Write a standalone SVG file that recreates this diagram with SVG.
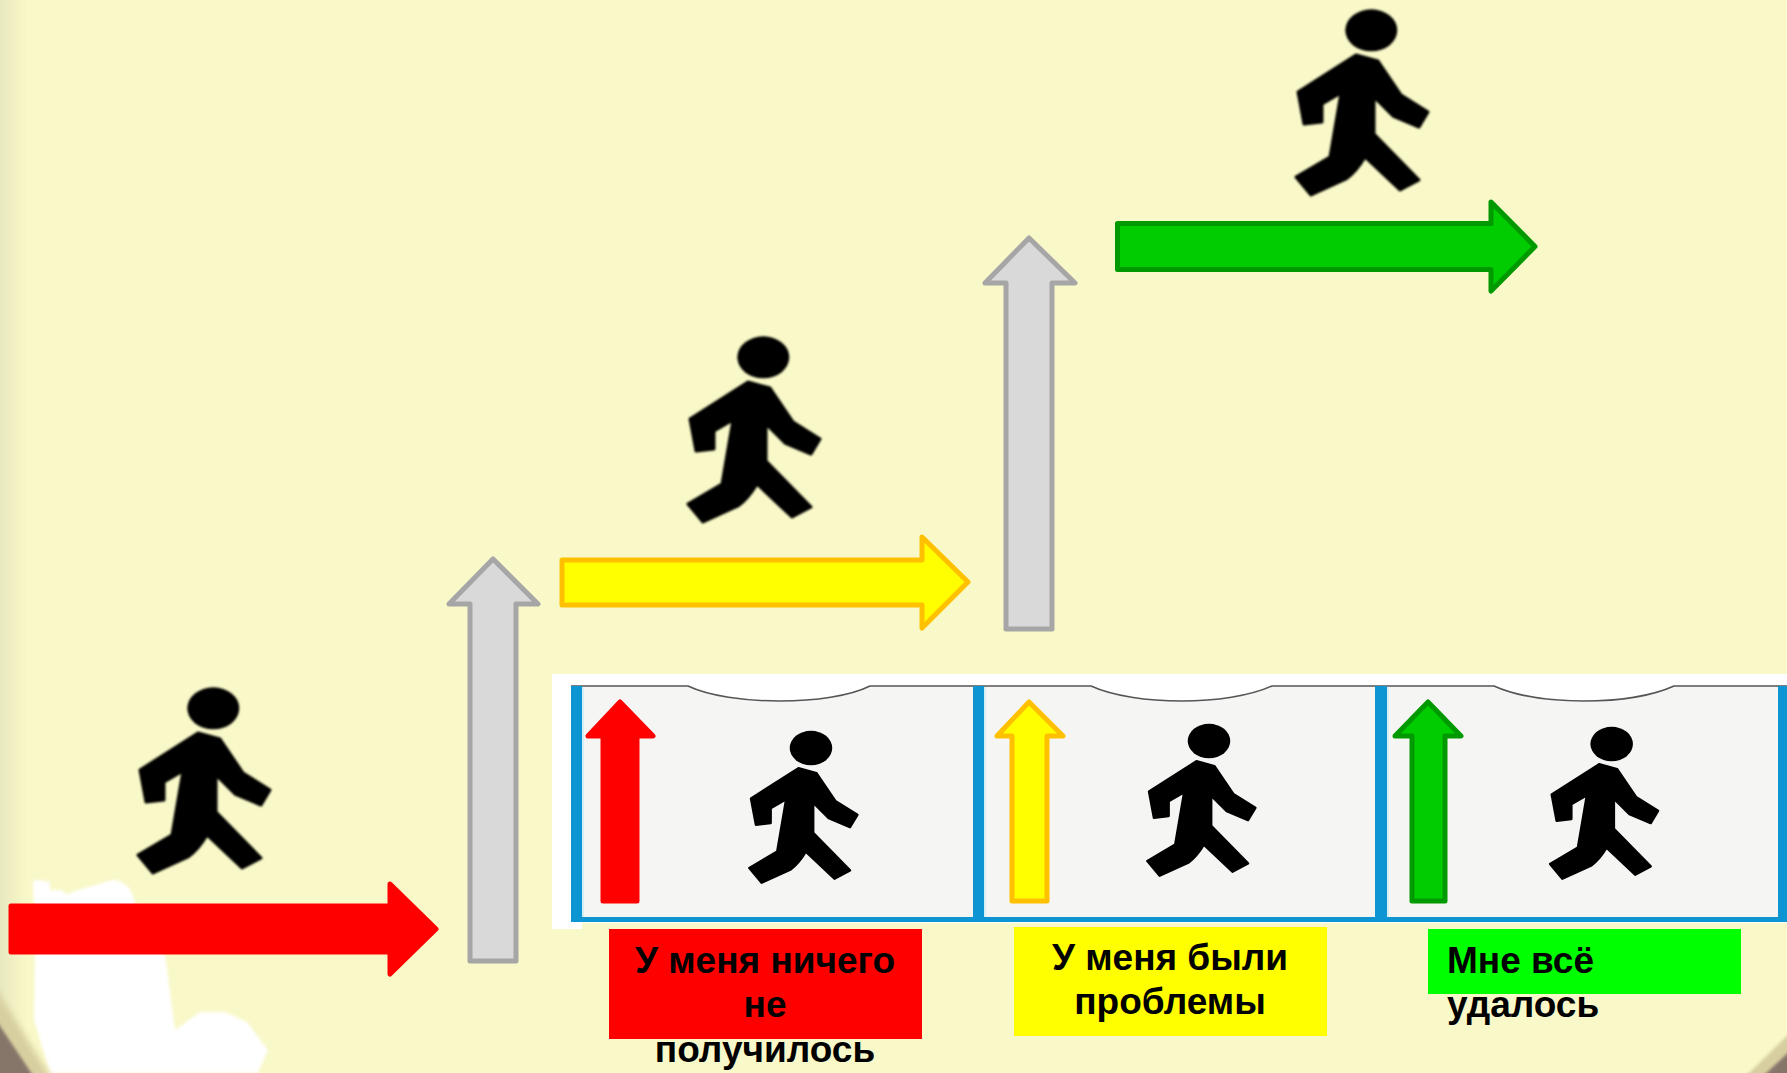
<svg xmlns="http://www.w3.org/2000/svg" width="1787" height="1073" viewBox="0 0 1787 1073">
<style>
.t{font-family:"Liberation Sans",Arial,sans-serif;font-weight:700;font-size:37px;fill:#000}
.m{text-anchor:middle}
.ar{stroke-width:5;stroke-linejoin:round}
.gray{fill:#d9d9d9;stroke:#a6a6a6}
.red{fill:#ff0000;stroke:#ff0000}
.yel{fill:#ffff00;stroke:#ffc000}
.grn{fill:#00cc00;stroke:#009a00}
.bl{fill:#0d94d2}
.hl{fill:#d4f0f4}
.nl{fill:#fff;stroke:#555;stroke-width:1.5}
</style>
<defs>
<filter id="soft" x="-5%" y="-5%" width="110%" height="110%"><feGaussianBlur stdDeviation="0.8"/></filter>
<filter id="soft2" x="-10%" y="-10%" width="120%" height="120%"><feGaussianBlur stdDeviation="1.5"/></filter>
<filter id="soft3" x="-30%" y="-30%" width="160%" height="160%"><feGaussianBlur stdDeviation="3"/></filter>
<linearGradient id="edge" x1="0" x2="1" y1="0" y2="0"><stop offset="0" stop-color="#e9e9bf"/><stop offset="1" stop-color="#f9f8c8"/></linearGradient>
<g id="walker" filter="url(#soft)">
<ellipse cx="113.3" cy="48.3" rx="26" ry="21"/>
<path stroke="#000" stroke-width="3" stroke-linejoin="round" d="M98 73L120 79L143 113L170 130L161 145L135 134L116 115L116 152L161 198L142 208L107 175Q98 190 88 197L53 213L38 195L72 175L83 111L64 122L64 140L46 142L40 110Z"/>
</g>
</defs>
<rect width="1787" height="1073" fill="#f9f8c8"/>
<g id="backdrop">
<rect x="0" y="0" width="28" height="1073" fill="url(#edge)"/>
<path fill="#fff" filter="url(#soft2)" d="M33 883Q32 880 40 880L50 882V890H62Q66 897 72 892L112 880Q130 880 135 903L165 954L175 1030L200 1012L225 1012L247 1022L268 1050L258 1073L50 1073L34 1020L35 950Z"/>
<path fill="#d8cfa0" filter="url(#soft3)" d="M-6 985L52 1079L-6 1079Z"/>
<path fill="#86766a" filter="url(#soft2)" d="M-4 1020L34 1077L-4 1077Z"/>
<path fill="#d8cfa0" filter="url(#soft2)" d="M1791 1032L1791 1077L1745 1077Z"/>
<path fill="#86766a" filter="url(#soft2)" d="M1791 1050L1791 1077L1762 1077Z"/>
</g>
<g id="panel">
<rect x="552" y="674" width="1235" height="255" fill="#fff"/>
<rect x="582" y="923" width="1205" height="10" fill="#f9f8c8"/>
<rect x="571" y="686" width="1216" height="236" fill="#f5f6f4"/>
<path class="nl" d="M571 686H688C730 706 830 706 870 686H1091C1135 706 1228 706 1272 686H1494C1538 706 1630 706 1674 686H1787"/>
<rect class="hl" x="582" y="687" width="2" height="230"/>
<rect class="hl" x="984" y="687" width="2" height="230"/>
<rect class="hl" x="1387" y="687" width="2" height="230"/>
<rect class="bl" x="571" y="686" width="11" height="236"/>
<rect class="bl" x="973" y="686" width="11" height="236"/>
<rect class="bl" x="1375" y="686" width="12" height="236"/>
<rect class="bl" x="1778" y="686" width="9" height="236"/>
<rect class="bl" x="571" y="917" width="1216" height="5"/>
</g>
<g id="walkers">
<use id="walker-1" href="#walker" transform="translate(100 660)"/>
<use id="walker-2" href="#walker" transform="translate(650 309)"/>
<use id="walker-3" href="#walker" transform="translate(1258 -18)"/>
<use id="walker-4" href="#walker" transform="translate(718.3 708.5) scale(.818)"/>
<use id="walker-5" href="#walker" transform="translate(1116.3 701.5) scale(.818)"/>
<use id="walker-6" href="#walker" transform="translate(1519 704.5) scale(.818)"/>
</g>
<g id="connectors">
<path class="ar red" d="M11 906H390V884L436 929L390 974V952H11Z"/>
<path class="ar gray" d="M470 961V604H449L493 559L538 604H516V961Z"/>
<path class="ar yel" d="M562 560H922V537L968 582L922 628V605H562Z"/>
<path class="ar gray" d="M1006 629V283H985L1029 238L1075 283H1052V629Z"/>
<path class="ar grn" d="M1117.5 223.5H1491V202L1535 246.5L1491 291V269.5H1117.5Z"/>
<path class="ar red" d="M603 901V736H588L620 702L653 736H637V901Z"/>
<path class="ar yel" d="M1012 901V736H997L1029 702L1063 736H1047V901Z"/>
<path class="ar grn" d="M1412 901V736H1395L1428 702L1461 736H1445V901Z"/>
</g>
<g id="label-red">
<rect x="609" y="929" width="313" height="110" fill="#ff0000"/>
<text class="t m" x="765" y="973">У меня ничего</text>
<text class="t m" x="765" y="1017">не</text>
<text class="t m" x="765" y="1062">получилось</text>
</g>
<g id="label-yellow">
<rect x="1014" y="927" width="313" height="109" fill="#ffff00"/>
<text class="t m" x="1170" y="970">У меня были</text>
<text class="t m" x="1170" y="1014">проблемы</text>
</g>
<g id="label-green">
<rect x="1428" y="929" width="313" height="65" fill="#00ff00"/>
<text class="t" x="1447" y="973">Мне всё</text>
<text class="t" x="1447" y="1017">удалось</text>
</g>
</svg>
